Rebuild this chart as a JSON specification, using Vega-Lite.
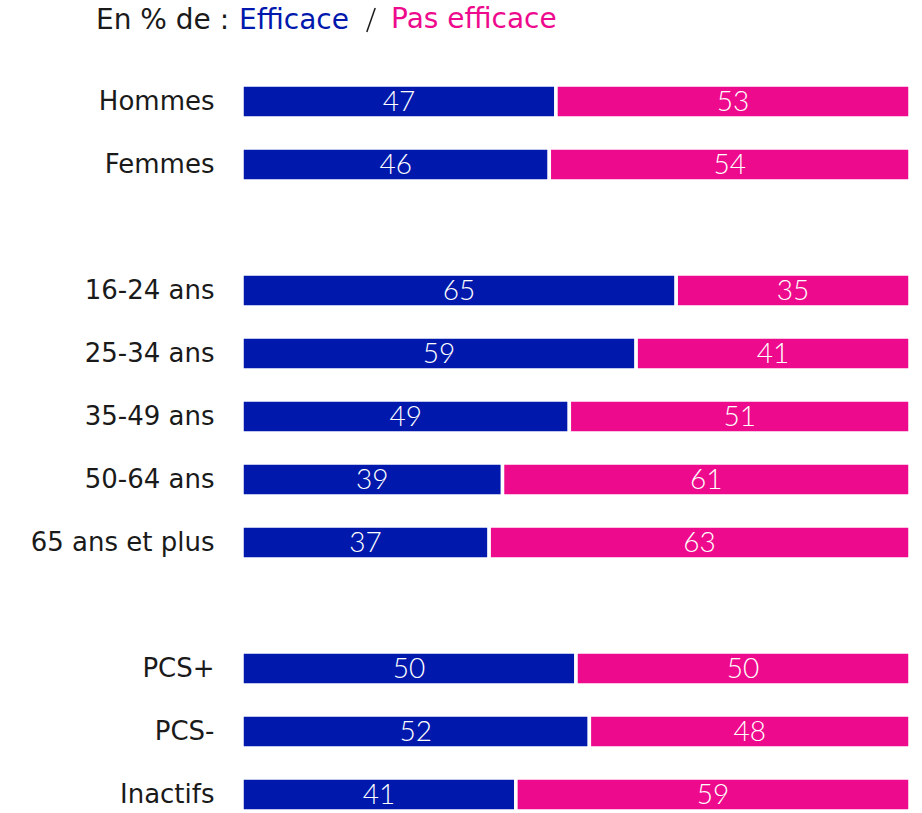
{
  "$schema": "https://vega.github.io/schema/vega-lite/v6.json",
  "width": 668,
  "height": 756,
  "autosize": "none",
  "padding": {"left": 242, "top": 70, "right": 12, "bottom": 0},
  "background": "white",
  "config": {"view": {"stroke": null}, "font": "DejaVu Sans"},
  "data": {"values": [
    {"cat": "Hommes", "type": "Efficace", "value": 47, "ord": 1},
    {"cat": "Hommes", "type": "Pas efficace", "value": 53, "ord": 2},
    {"cat": "Femmes", "type": "Efficace", "value": 46, "ord": 1},
    {"cat": "Femmes", "type": "Pas efficace", "value": 54, "ord": 2},
    {"cat": "16-24 ans", "type": "Efficace", "value": 65, "ord": 1},
    {"cat": "16-24 ans", "type": "Pas efficace", "value": 35, "ord": 2},
    {"cat": "25-34 ans", "type": "Efficace", "value": 59, "ord": 1},
    {"cat": "25-34 ans", "type": "Pas efficace", "value": 41, "ord": 2},
    {"cat": "35-49 ans", "type": "Efficace", "value": 49, "ord": 1},
    {"cat": "35-49 ans", "type": "Pas efficace", "value": 51, "ord": 2},
    {"cat": "50-64 ans", "type": "Efficace", "value": 39, "ord": 1},
    {"cat": "50-64 ans", "type": "Pas efficace", "value": 61, "ord": 2},
    {"cat": "65 ans et plus", "type": "Efficace", "value": 37, "ord": 1},
    {"cat": "65 ans et plus", "type": "Pas efficace", "value": 63, "ord": 2},
    {"cat": "PCS+", "type": "Efficace", "value": 50, "ord": 1},
    {"cat": "PCS+", "type": "Pas efficace", "value": 50, "ord": 2},
    {"cat": "PCS-", "type": "Efficace", "value": 52, "ord": 1},
    {"cat": "PCS-", "type": "Pas efficace", "value": 48, "ord": 2},
    {"cat": "Inactifs", "type": "Efficace", "value": 41, "ord": 1},
    {"cat": "Inactifs", "type": "Pas efficace", "value": 59, "ord": 2}
  ]},
  "transform": [
    {"stack": "value", "groupby": ["cat"], "sort": [{"field": "ord", "order": "ascending"}], "as": ["v0", "v1"]},
    {"calculate": "(datum.v0 + datum.v1) / 2", "as": "mid"}
  ],
  "encoding": {
    "y": {
      "field": "cat", "type": "nominal",
      "scale": {
        "domain": ["Hommes", "Femmes", " ", "16-24 ans", "25-34 ans", "35-49 ans", "50-64 ans", "65 ans et plus", "  ", "PCS+", "PCS-", "Inactifs"],
        "paddingInner": 0, "paddingOuter": 0
      },
      "axis": {"title": null, "domain": false, "ticks": false, "labelPadding": 28, "labelFontSize": 26, "labelColor": "#1a1a1a", "labelFont": "DejaVu Sans", "labelLimit": 400}
    }
  },
  "layer": [
    {
      "mark": {"type": "bar", "size": 33, "stroke": "white", "strokeWidth": 3.5},
      "encoding": {
        "x": {"field": "v0", "type": "quantitative", "scale": {"domain": [0, 100], "nice": false}, "axis": null},
        "x2": {"field": "v1"},
        "color": {
          "field": "type", "type": "nominal",
          "scale": {"domain": ["Efficace", "Pas efficace"], "range": ["#0019AC", "#EE0A8C"]},
          "legend": {
            "orient": "none", "legendX": -146, "legendY": -64,
            "direction": "horizontal",
            "title": "En % de :", "titleOrient": "left", "titleFontSize": 28, "titleFontWeight": "normal", "titleColor": "#1a1a1a", "titleFont": "DejaVu Sans", "titlePadding": -25, "titleBaseline": "middle", "titleLimit": 400,
            "labelFontSize": 28, "labelFont": "DejaVu Sans", "labelOffset": 6, "columnPadding": 8, "labelLimit": 400,
            "labelColor": {"expr": "datum.value === 'Efficace' ? '#0019AC' : '#EE0A8C'"},
            "symbolType": "M0.35,-1L-0.35,1", "symbolSize": 576, "symbolStrokeWidth": 1.5, "symbolStrokeColor": "#1a1a1a",
            "symbolOpacity": {"expr": "datum.value === 'Efficace' ? 0 : 1"}
          }
        }
      }
    },
    {
      "mark": {"type": "text", "color": "white", "fontSize": 28, "fontWeight": 300, "font": "Lato", "baseline": "middle", "dy": 1},
      "encoding": {
        "x": {"field": "mid", "type": "quantitative"},
        "text": {"field": "value", "type": "quantitative"}
      }
    }
  ]
}
